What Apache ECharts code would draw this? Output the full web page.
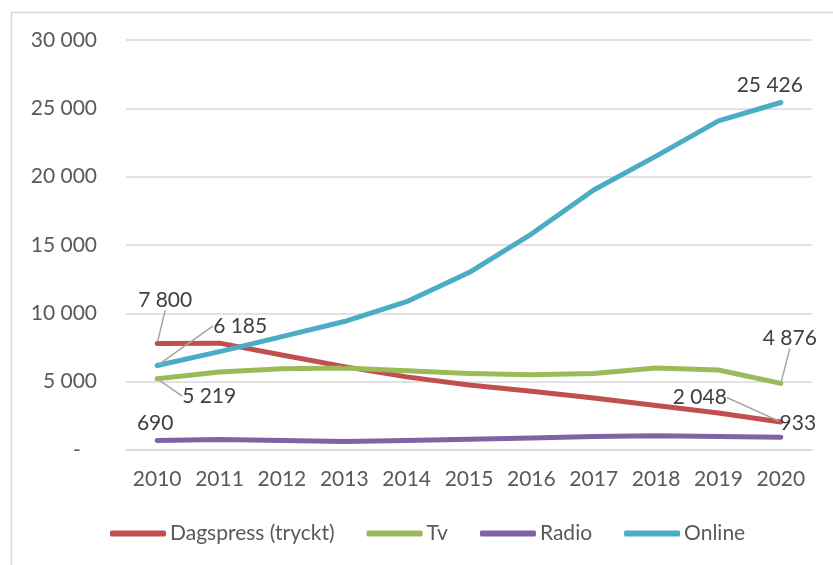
<!DOCTYPE html>
<html>
<head>
<meta charset="utf-8">
<script src="https://cdn.jsdelivr.net/npm/echarts@6/dist/echarts.min.js"></script>
<style>
  html, body { margin: 0; padding: 0; background: #fff; }
  #chart { width: 833px; height: 565px; }
</style>
</head>
<body>
<div id="chart"></div>
<script>
// årtal och värden
var years = ['2010', '2011', '2012', '2013', '2014', '2015', '2016', '2017', '2018', '2019', '2020'];
var dagspress = [7800, 7820, 6950, 6100, 5350, 4750, 4300, 3800, 3250, 2700, 2048];
var tv = [5219, 5700, 5950, 6000, 5800, 5600, 5500, 5600, 6000, 5850, 4876];
var radio = [690, 760, 700, 620, 700, 780, 880, 980, 1050, 990, 933];
var online = [6185, 7200, 8300, 9400, 10850, 12980, 15800, 19020, 21500, 24080, 25426];
var yTicks = [0, 5000, 10000, 15000, 20000, 25000, 30000];

var fontFam = 'Lato, "Open Sans", sans-serif';

function fmt(v) {
  return String(v).replace(/\B(?=(\d{3})+(?!\d))/g, ' ');
}

// label offsets for first / last point, [dx, dy, showLeader]
var labelMoves = {
  'Dagspress (tryckt)': { 0: [8, -26, true], 10: [-81, -7, true] },
  'Tv': { 0: [52, 35, true], 10: [9, -28, true] },
  'Radio': { 0: [-2, 0, false], 10: [17, 3, false] },
  'Online': { 0: [83, -22, true], 10: [-11, 0, false] }
};

function makeSeries(name, values, color) {
  var moves = labelMoves[name];
  var data = values.map(function (v, i) {
    var m = moves[i];
    if (!m) return v;
    return {
      value: v,
      label: { show: true },
      labelLine: { show: m[2] }
    };
  });
  return {
    name: name,
    type: 'line',
    data: data,
    symbol: 'circle',
    symbolSize: 4,
    itemStyle: { color: color },
    lineStyle: { color: color, width: 5, cap: 'round', join: 'round' },
    label: {
      show: false,
      position: 'top',
      color: '#404040',
      fontSize: 21,
      fontFamily: fontFam,
      formatter: function (p) { return fmt(p.value); }
    },
    labelLine: { show: true, lineStyle: { color: '#a6a6a6', width: 1.5 } },
    labelLayout: function (p) {
      var m = moves[p.dataIndex];
      if (!m) return {};
      return { dx: m[0], dy: m[1] };
    },
    emphasis: { disabled: true }
  };
}

var chart = echarts.init(document.getElementById('chart'));
chart.setOption({
  animation: false,
  backgroundColor: '#fff',
  graphic: [{
    type: 'rect',
    left: 9, top: 10,
    shape: { width: 900, height: 700 },
    style: { fill: 'none', stroke: '#d9d9d9', lineWidth: 1.5 },
    silent: true
  }],
  grid: { left: 126, right: 21, top: 40, bottom: 115 },
  legend: {
    left: 105,
    top: 518,
    itemWidth: 56,
    itemHeight: 6,
    itemGap: 32,
    icon: 'roundRect',
    textStyle: { color: '#595959', fontSize: 21, fontFamily: fontFam, padding: [0, 0, 0, -1] },
    data: ['Dagspress (tryckt)', 'Tv', 'Radio', 'Online']
  },
  xAxis: {
    type: 'category',
    data: years,
    boundaryGap: true,
    axisLine: { show: true, lineStyle: { color: '#d9d9d9', width: 1.5 } },
    axisTick: { show: false, length: 0 },
    minorTick: { show: false },
    splitLine: { show: false },
    axisLabel: { color: '#595959', fontSize: 21, fontFamily: fontFam, margin: 19, interval: 0 }
  },
  yAxis: {
    type: 'value',
    min: yTicks[0],
    max: yTicks[yTicks.length - 1],
    interval: 5000,
    axisLine: { show: false },
    axisTick: { show: false },
    splitLine: { lineStyle: { color: '#d9d9d9', width: 1.5 } },
    axisLabel: {
      color: '#595959', fontSize: 21, fontFamily: fontFam, margin: 29,
      formatter: function (v) { return v === 0 ? '-\u00a0\u00a0\u00a0' : fmt(v); }
    }
  },
  series: [
    makeSeries('Dagspress (tryckt)', dagspress, '#C0504D'),
    makeSeries('Tv', tv, '#9BBB59'),
    makeSeries('Radio', radio, '#8064A2'),
    makeSeries('Online', online, '#4BACC6')
  ]
});
</script>
</body>
</html>
